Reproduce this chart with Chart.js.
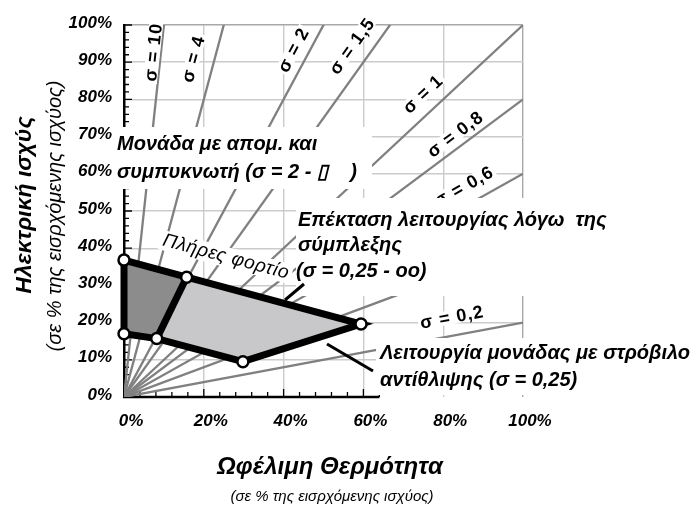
<!DOCTYPE html>
<html>
<head>
<meta charset="utf-8">
<script src="https://cdn.jsdelivr.net/npm/chart.js@4.4.1/dist/chart.umd.min.js"></script>
<style>
  html, body { margin: 0; padding: 0; background: #fff; }
  #wrap { width: 696px; height: 506px; position: relative; }
</style>
</head>
<body>
<div id="wrap"><canvas id="chp"></canvas></div>
<script>
/* ==========================================
   Περιοχή λειτουργίας μονάδας ΣΗΘ
   ========================================== */

// λόγος ηλεκτρισμού / θερμότητας των βοηθητικών γραμμών
const sigmaValues = [10, 4, 2, 1.5, 1, 0.8, 0.6, 0.4, 0.2];
const sigmaLabels = ["σ = 10", "σ = 4", "σ = 2", "σ = 1,5", "σ = 1", "σ = 0,8", "σ = 0,6", "", "σ = 0,2"];

const heatTicks = [0, 20, 40, 60, 80, 100];
const powerTicks = [0, 10, 20, 30, 40, 50, 60, 70, 80, 90, 100];

// κορυφές της περιοχής λειτουργίας (θερμότητα %, ηλεκτρ. ισχύς %)
const regionHeat = [0, 15.7, 59.4, 29.8, 8.2, 0];
const regionPower = [36.8, 32.2, 19.6, 9.5, 15.7, 17.0];

// ποια κορυφή ανήκει σε ποιο τμήμα
const condensingIdx = [0, 1, 4, 5, 0];
const extractionIdx = [1, 2, 3, 4, 1];
const outlineIdx = [0, 1, 2, 3, 4, 5, 0];
const dividerIdx = [1, 4];

const FONT = '"Liberation Sans", Arial, sans-serif';

// θέσεις των ετικετών σ (σε μονάδες αξόνων)
const sigmaLabelSpots = [
    [7.3, 92.7], [17.3, 90.9], [42.4, 93.3], [57.1, 94.4],
    [74.9, 81.5], [83.0, 70.7], [85.2, 56.7], null, [82.2, 21.5]
];

function pts(idx) {
    return idx.map(i => ({ x: regionHeat[i], y: regionPower[i] }));
}

const sigmaDatasets = sigmaValues.map(s => ({
    data: [{ x: 0, y: 0 }, { x: 100, y: 100 * s }],
    showLine: true,
    borderColor: "#808080",
    borderWidth: 2.3,
    pointRadius: 0,
    fill: false
}));

const datasets = [
    {
        data: pts([0, 1, 2, 3, 4, 5]),
        showLine: false,
        pointRadius: 5.5,
        pointBackgroundColor: "#ffffff",
        pointBorderColor: "#000000",
        pointBorderWidth: 2.5,
        clip: 12
    },
    {
        data: pts(outlineIdx),
        showLine: true,
        borderColor: "#000000",
        borderWidth: 7,
        borderJoinStyle: "miter",
        pointRadius: 0,
        fill: false,
        clip: 12
    },
    {
        data: pts(dividerIdx),
        showLine: true,
        borderColor: "#000000",
        borderWidth: 7,
        pointRadius: 0,
        fill: false
    },
    {
        data: pts(condensingIdx),
        showLine: true,
        borderWidth: 0,
        borderColor: "rgba(0,0,0,0)",
        backgroundColor: "#8c8c8c",
        pointRadius: 0,
        fill: "shape"
    },
    {
        data: pts(extractionIdx),
        showLine: true,
        borderWidth: 0,
        borderColor: "rgba(0,0,0,0)",
        backgroundColor: "#c8c8ca",
        pointRadius: 0,
        fill: "shape"
    },
    ...sigmaDatasets
];

function whiteBox(ctx, x, y, w, h) {
    ctx.fillStyle = "#ffffff";
    ctx.fillRect(x, y, w, h);
}

function writeLines(ctx, lines, font) {
    ctx.font = font;
    ctx.fillStyle = "#000000";
    ctx.textAlign = "left";
    ctx.textBaseline = "alphabetic";
    lines.forEach(l => ctx.fillText(l[0], l[1], l[2]));
}

function leader(ctx, x1, y1, x2, y2) {
    ctx.strokeStyle = "#000000";
    ctx.lineWidth = 3;
    ctx.beginPath();
    ctx.moveTo(x1, y1);
    ctx.lineTo(x2, y2);
    ctx.stroke();
}

const decorPlugin = {
    id: "decor",

    beforeDatasetsDraw(chart) {
        const ctx = chart.ctx;
        const xa = chart.scales.x;
        const ya = chart.scales.y;
        const x0 = xa.getPixelForValue(0);
        const y0 = ya.getPixelForValue(0);

        ctx.save();
        ctx.strokeStyle = "#000000";

        // άξονας θερμότητας (μέχρι 64%)
        ctx.lineWidth = 2.5;
        ctx.beginPath();
        ctx.moveTo(x0 - 1, y0);
        ctx.lineTo(xa.getPixelForValue(64), y0);
        ctx.stroke();

        ctx.lineWidth = 1.3;
        ctx.beginPath();
        for (let v = 4; v <= 64; v += 4) {
            const px = xa.getPixelForValue(v);
            const len = v % 20 === 0 ? 8 : 5;
            ctx.moveTo(px, y0);
            ctx.lineTo(px, y0 - len);
        }
        for (let v = 2; v <= 100; v += 2) {
            const py = ya.getPixelForValue(v);
            const len = v % 10 === 0 ? 8 : 5;
            ctx.moveTo(x0, py);
            ctx.lineTo(x0 + len, py);
        }
        ctx.stroke();
        ctx.restore();
    },

    afterDatasetsDraw(chart) {
        const ctx = chart.ctx;
        const xa = chart.scales.x;
        const ya = chart.scales.y;
        const kx = (xa.getPixelForValue(100) - xa.getPixelForValue(0)) / 100;
        const ky = (ya.getPixelForValue(0) - ya.getPixelForValue(100)) / 100;

        ctx.save();

        // ετικέτες σ
        sigmaValues.forEach((s, i) => {
            const spot = sigmaLabelSpots[i];
            if (!spot || !sigmaLabels[i]) {
                return;
            }
            const px = xa.getPixelForValue(spot[0]);
            const py = ya.getPixelForValue(spot[1]);
            const ang = -Math.atan2(s * ky, kx);
            ctx.save();
            ctx.translate(px, py);
            ctx.rotate(ang);
            ctx.font = "bold 18px " + FONT;
            ctx.letterSpacing = "1px";
            const w = ctx.measureText(sigmaLabels[i]).width;
            whiteBox(ctx, -w / 2 - 2, -7, w + 4, 14);
            ctx.fillStyle = "#000000";
            ctx.textAlign = "center";
            ctx.textBaseline = "middle";
            ctx.fillText(sigmaLabels[i], 0, 1);
            ctx.restore();
        });

        // Πλήρες φορτίο
        ctx.save();
        ctx.translate(226, 257);
        ctx.rotate(15 * Math.PI / 180);
        ctx.font = "italic 19px " + FONT;
        ctx.letterSpacing = "0.6px";
        const fw = ctx.measureText("Πλήρες φορτίο").width;
        whiteBox(ctx, -fw / 2 - 3, -10, fw + 6, 20);
        ctx.fillStyle = "#000000";
        ctx.textAlign = "center";
        ctx.textBaseline = "middle";
        ctx.fillText("Πλήρες φορτίο", 0, 0);
        ctx.restore();

        const annFont = "italic bold 20px " + FONT;

        whiteBox(ctx, 114, 127, 258, 62);
        writeLines(ctx, [
            ["Μονάδα με απομ. και", 117, 150],
            ["συμπυκνωτή (σ = 2 - ▯    )", 117, 178]
        ], annFont);

        whiteBox(ctx, 296, 198, 340, 98);
        writeLines(ctx, [
            ["Επέκταση λειτουργίας λόγω  της", 298, 226],
            ["σύμπλεξης", 298, 251],
            ["(σ = 0,25 - οο)", 296, 277]
        ], annFont);

        whiteBox(ctx, 376, 338, 320, 57);
        writeLines(ctx, [
            ["Λειτουργία μονάδας με στρόβιλο", 380, 359],
            ["αντίθλιψης (σ = 0,25)", 380, 386]
        ], annFont);

        leader(ctx, 304, 284, 285, 300);
        leader(ctx, 327, 344, 373, 371);

        ctx.restore();
    },

    afterDraw(chart) {
        const ctx = chart.ctx;
        ctx.save();
        ctx.fillStyle = "#000000";
        ctx.textAlign = "center";
        ctx.textBaseline = "middle";

        ctx.save();
        ctx.translate(25, 205);
        ctx.rotate(-Math.PI / 2);
        ctx.font = "italic bold 23px " + FONT;
        ctx.fillText("Ηλεκτρική ισχύς", 0, 0);
        ctx.restore();

        ctx.save();
        ctx.translate(55, 216);
        ctx.rotate(-Math.PI / 2);
        ctx.font = "italic 20px " + FONT;
        ctx.fillText("(σε % της εισρχόμενης ισχύος)", 0, 0);
        ctx.restore();

        ctx.font = "italic bold 24px " + FONT;
        ctx.fillText("Ωφέλιμη Θερμότητα", 330, 467);

        ctx.font = "italic 15px " + FONT;
        ctx.fillText("(σε % της εισρχόμενης ισχύος)", 332, 497);

        ctx.restore();
    }
};

const tickFont = { family: FONT, size: 17, weight: "bold", style: "italic" };

new Chart(document.getElementById("chp"), {
    type: "scatter",
    data: { datasets },
    plugins: [decorPlugin],
    options: {
        responsive: true,
        maintainAspectRatio: false,
        animation: false,
        events: [],
        layout: {
            padding: { left: 0, top: 25, right: 173, bottom: 0 }
        },
        plugins: {
            legend: { display: false },
            tooltip: { enabled: false }
        },
        scales: {
            x: {
                type: "linear",
                min: 0,
                max: 100,
                afterBuildTicks: scale => {
                    scale.ticks = heatTicks.map(v => ({ value: v }));
                },
                afterFit: scale => {
                    scale.height = 109;
                },
                border: { display: false },
                grid: {
                    drawTicks: false,
                    lineWidth: 1.4,
                    color: c => c.tick.value === 0 ? "rgba(0,0,0,0)"
                        : (c.tick.value === 100 ? "#a8a8a8" : "#cbcbcb")
                },
                ticks: {
                    color: "#000000",
                    font: tickFont,
                    padding: 14,
                    labelOffset: 7,
                    maxRotation: 0,
                    callback: v => v + "%"
                }
            },
            y: {
                type: "linear",
                min: 0,
                max: 100,
                afterBuildTicks: scale => {
                    scale.ticks = powerTicks.map(v => ({ value: v }));
                },
                afterFit: scale => {
                    scale.width = 124;
                },
                border: { display: true, color: "#000000", width: 2.5 },
                grid: {
                    drawTicks: false,
                    lineWidth: 1.4,
                    color: c => c.tick.value === 0 ? "rgba(0,0,0,0)"
                        : (c.tick.value === 100 ? "#a8a8a8" : "#cbcbcb")
                },
                ticks: {
                    color: "#000000",
                    font: tickFont,
                    padding: 12,
                    labelOffset: -2,
                    callback: v => v + "%"
                }
            }
        }
    }
});
</script>
</body>
</html>
